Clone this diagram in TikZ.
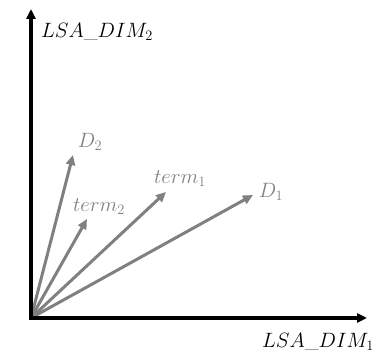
\documentclass[tikz,border=0pt]{standalone}
\usetikzlibrary{arrows.meta}
\definecolor{vecgray}{RGB}{128,128,128}
\begin{document}
\begin{tikzpicture}[x=1pt,y=1pt,
  axis/.style={line width=3.2pt,-{Triangle[length=10pt,width=9pt]}},
  vec/.style={draw=vecgray,line width=3pt,-{Triangle[length=10pt,width=9pt]},fill=vecgray},
  lab/.style={font=\fontsize{20}{24}\selectfont,inner sep=0pt},
  vlab/.style={lab,text=vecgray}]
\useasboundingbox (0,0) rectangle (383,355);
\coordinate (O) at (31,37);
\coordinate (ytop) at (31,346);
\coordinate (xend) at (367,37);
\coordinate (d2) at (73,200);
\coordinate (t2) at (87,136);
\coordinate (t1) at (166,163);
\coordinate (d1) at (253,160);
\draw[vec] (O) -- (d2);
\draw[vec] (O) -- (t2);
\draw[vec] (O) -- (t1);
\draw[vec] (O) -- (d1);
\draw[axis] (31,35.4) -- (ytop);
\draw[axis] (29.4,37) -- (xend);
\node[lab] (ly) at (97,323) {$LSA\_DIM_2$};
\node[lab] (lx) at (318,13) {$LSA\_DIM_1$};
\node[vlab] (ld2) at (90,213) {$D_2$};
\node[vlab] (lt2) at (99,148) {$term_2$};
\node[vlab] (lt1) at (180,176) {$term_1$};
\node[vlab] (ld1) at (271,163) {$D_1$};
\end{tikzpicture}
\end{document}
